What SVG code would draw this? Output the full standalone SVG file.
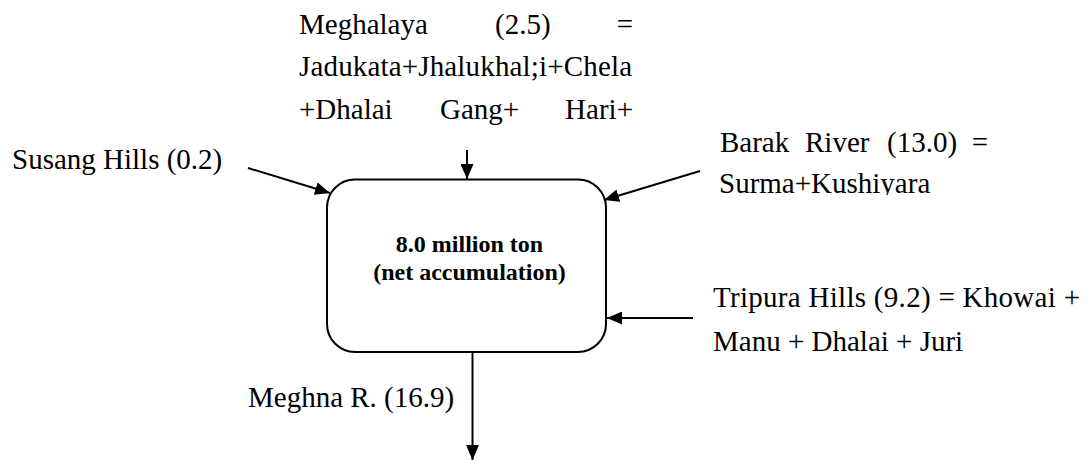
<svg xmlns="http://www.w3.org/2000/svg" width="1088" height="460" viewBox="0 0 1088 460">
<style>
.t{font-family:"Liberation Serif","Times New Roman",serif;font-size:29px;fill:#000}
.b{font-family:"Liberation Serif","Times New Roman",serif;font-size:24px;font-weight:bold;fill:#000;text-anchor:middle}
.c{fill:none;stroke:#000;stroke-width:2}
</style>
<defs>
<marker id="ah" markerWidth="15" markerHeight="13" refX="15" refY="6.5" orient="auto" markerUnits="userSpaceOnUse">
<path d="M0,0 L15,6.5 L0,13 Z" fill="#000"/>
</marker>
<clipPath id="clipBarak"><rect x="700" y="120" width="388" height="75"/></clipPath>
</defs>
<rect width="1088" height="460" fill="#fff"/>
<g id="center">
<rect x="327" y="179.5" width="279" height="172.5" rx="28" ry="28" fill="#fff" stroke="#000" stroke-width="2"/>
<text class="b" x="469.5" y="251.5">8.0 million ton</text>
<text class="b" x="469.5" y="280">(net accumulation)</text>
</g>
<g id="meghalaya">
<text class="t" x="299" y="34">Meghalaya</text>
<text class="t" x="495" y="34">(2.5)</text>
<text class="t" x="633" y="34" text-anchor="end">=</text>
<text class="t" x="299" y="76" textLength="333" lengthAdjust="spacing">Jadukata+Jhalukhal;i+Chela</text>
<text class="t" x="299" y="118.5">+Dhalai</text>
<text class="t" x="440" y="118.5">Gang+</text>
<text class="t" x="633" y="118.5" text-anchor="end">Hari+</text>
</g>
<g id="susang">
<text class="t" x="12" y="169">Susang Hills (0.2)</text>
</g>
<g id="barak" clip-path="url(#clipBarak)">
<text class="t" x="720" y="151.5">Barak</text>
<text class="t" x="805" y="151.5">River</text>
<text class="t" x="887" y="151.5">(13.0)</text>
<text class="t" x="988" y="151.5" text-anchor="end">=</text>
<text class="t" x="719" y="192.7">Surma+Kushiyara</text>
</g>
<g id="tripura">
<text class="t" x="713" y="306.5" textLength="367" lengthAdjust="spacing">Tripura Hills (9.2) = Khowai +</text>
<text class="t" x="713" y="351">Manu + Dhalai + Juri</text>
</g>
<g id="meghna">
<text class="t" x="248" y="406.5">Meghna R. (16.9)</text>
</g>
<g id="connectors">
<line class="c" x1="467" y1="150" x2="467" y2="179" marker-end="url(#ah)"/>
<line class="c" x1="248" y1="168" x2="330" y2="193" marker-end="url(#ah)"/>
<line class="c" x1="700" y1="171" x2="604" y2="200" marker-end="url(#ah)"/>
<line class="c" x1="693" y1="318" x2="607" y2="318" marker-end="url(#ah)"/>
<line class="c" x1="472.5" y1="352" x2="472.5" y2="460" marker-end="url(#ah)"/>
</g>
</svg>
